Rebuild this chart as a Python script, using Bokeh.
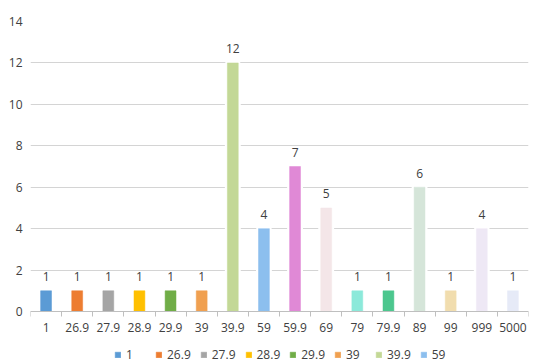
from bokeh.plotting import figure
from bokeh.models import (ColumnDataSource, FixedTicker, LabelSet, Legend, LegendItem)
from bokeh.core.properties import value
from bokeh.embed import file_html
from bokeh.resources import INLINE

categories = ["1", "26.9", "27.9", "28.9", "29.9", "39", "39.9", "59", "59.9",
              "69", "79", "79.9", "89", "99", "999", "5000"]
counts = [1, 1, 1, 1, 1, 1, 12, 4, 7, 5, 1, 1, 6, 1, 4, 1]
bar_colors = ["#5B9BD5", "#ED7D31", "#A5A5A5", "#FFC000", "#70AD47", "#F0A050",
              "#C3D896", "#8CBFEE", "#E089D6", "#F4E6E8", "#8CE9DA", "#4CC78E",
              "#D5E5D9", "#F1DDAE", "#EEE8F5", "#E6EAF7"]
y_ticks = [0, 2, 4, 6, 8, 10, 12, 14]
legend_count = 8

FONT = "Open Sans"
TXT = "#404040"

xs = list(range(len(categories)))
src = ColumnDataSource(dict(x=xs, top=counts, color=bar_colors,
                            label=[str(v) for v in counts]))

# frame spans to the bottom edge; value 0 sits 53px above it (room for labels + legend)
Y_MAX = 14
Y_MIN = -Y_MAX * 53 / 290

p = figure(x_range=(-0.5, len(categories) - 0.5), y_range=(Y_MIN, Y_MAX),
           width=544, height=364,
           min_border_left=30, min_border_right=16, min_border_top=21, min_border_bottom=0,
           output_backend="svg", toolbar_location=None)
p.outline_line_color = None
p.background_fill_color = "white"
p.border_fill_color = "white"

# white halo behind bars (gridlines break around bars)
p.vbar(x="x", top="top", width=0.35, source=src, fill_color="white",
       line_color="white", line_width=5)
bars = p.vbar(x="x", top="top", width=0.35, source=src, fill_color="color",
              line_color="color", line_width=0.5)

labels = LabelSet(x="x", y="top", text="label", source=src, y_offset=14,
                  text_align="center", text_baseline="middle",
                  text_font=value(FONT), text_font_size=value("12px"), text_color=value(TXT),
                  background_fill_color="white")
p.add_layout(labels)

# y axis
p.yaxis.ticker = FixedTicker(ticks=y_ticks)
p.yaxis.axis_line_color = None
p.yaxis.major_tick_line_color = None
p.yaxis.minor_tick_line_color = None
p.yaxis.major_tick_out = 0
p.yaxis.major_label_standoff = 8
p.yaxis.major_label_text_font = FONT
p.yaxis.major_label_text_font_size = "12px"
p.yaxis.major_label_text_color = TXT

# x axis, drawn at value 0
p.xaxis.fixed_location = 0
p.xaxis.ticker = FixedTicker(ticks=xs, minor_ticks=[i - 0.5 for i in range(len(categories) + 1)])
p.xaxis.major_label_overrides = {i: c for i, c in enumerate(categories)}
p.xaxis.axis_line_color = "#BFBFBF"
p.xaxis.major_tick_line_color = None
p.xaxis.major_tick_out = 0
p.xaxis.major_tick_in = 0
p.xaxis.minor_tick_line_color = "#BFBFBF"
p.xaxis.minor_tick_out = 5
p.xaxis.minor_tick_in = 0
p.xaxis.major_label_standoff = 6
p.xaxis.major_label_text_font = FONT
p.xaxis.major_label_text_font_size = "12px"
p.xaxis.major_label_text_color = TXT

p.xgrid.grid_line_color = None
p.ygrid.grid_line_color = "#D4D4D4"
p.ygrid.grid_line_width = 1

items = [LegendItem(label=categories[i], renderers=[bars], index=i) for i in range(legend_count)]
legend = Legend(items=items, orientation="horizontal", location=(84, 1),
                glyph_width=7, glyph_height=7, label_standoff=5, label_width=20,
                label_height=10, spacing=9, padding=0, margin=0, border_line_color=None,
                background_fill_alpha=0,
                label_text_font=FONT, label_text_font_size="12px", label_text_color=TXT)
p.add_layout(legend, "center")

open("out.html", "w").write(file_html(p, INLINE))
